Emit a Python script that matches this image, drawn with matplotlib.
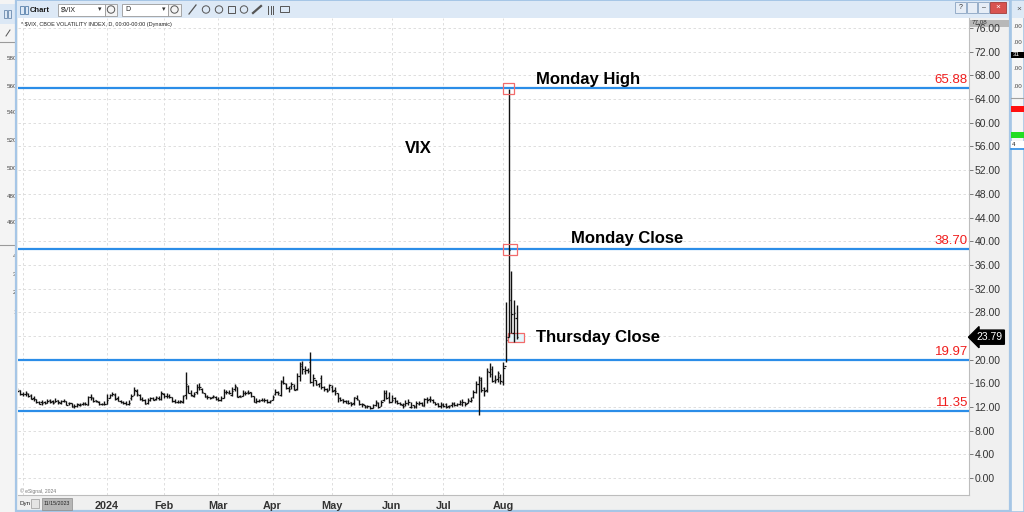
import matplotlib
matplotlib.use('Agg')
import numpy as np
import pandas as pd
import matplotlib.pyplot as plt
from matplotlib.patches import Rectangle, Circle
from matplotlib.transforms import blended_transform_factory

plt.rcParams['font.family'] = ['Liberation Sans', 'DejaVu Sans']

# daily bars, 13 Nov 2023 .. 8 Aug 2024 (US market holidays removed)
holidays = ['2023-11-23', '2023-12-25', '2024-01-01', '2024-01-15', '2024-02-19',
            '2024-03-29', '2024-05-27', '2024-06-19', '2024-07-04']
days = pd.bdate_range('2023-11-13', '2024-08-08')
days = days[~days.isin(pd.to_datetime(holidays))]

opens = [
    # Nov
    14.85, 14.90, 14.20, 14.25, 14.20, 14.05, 13.45, 13.30, 12.90, 12.80, 12.85, 12.70, 13.20,
    # Dec
    13.00, 12.90, 13.10, 12.75, 12.95, 13.00, 12.60, 12.65, 12.20, 12.20, 12.40, 12.50, 12.60,
    12.40, 13.60, 13.50, 13.10, 12.90, 12.50, 12.45,
    # Jan
    12.55, 13.55, 14.10, 14.00, 13.55, 13.05, 12.80, 12.60, 12.45, 13.45, 14.10, 14.70, 14.10,
    13.30, 13.20, 12.60, 13.10, 13.45, 13.30, 13.55, 13.30,
    # Feb
    14.20, 13.90, 13.90, 13.60, 13.05, 12.85, 12.85, 12.90, 13.95, 15.60, 14.40, 13.90, 14.50,
    15.30, 15.10, 14.30, 13.85, 13.70, 13.70, 13.60,
    # Mar
    13.40, 13.20, 13.55, 14.50, 14.35, 14.10, 14.95, 15.30, 13.80, 13.85, 14.30, 14.50, 14.50,
    13.80, 12.90, 13.05, 13.10, 13.10, 13.25, 12.85,
    # Apr
    13.20, 14.20, 14.60, 14.00, 16.20, 15.90, 15.20, 15.50, 15.60, 15.10, 17.20, 19.00, 18.00,
    18.30, 19.60, 16.20, 16.50, 15.80, 16.90, 15.30, 15.00, 14.80,
    # May
    15.40, 14.90, 14.40, 13.50, 13.30, 13.00, 13.00, 12.80, 12.60, 13.50, 13.15, 12.50, 12.40,
    12.10, 12.15, 11.90, 12.30, 12.70, 12.20, 13.15, 14.40, 13.60,
    # Jun
    12.90, 13.50, 13.00, 12.60, 12.40, 12.50, 12.70, 12.00, 12.30, 12.10, 12.50, 12.70, 12.20,
    13.40, 13.30, 13.20, 12.80, 12.60, 12.20,
    # Jul
    12.30, 12.50, 12.20, 12.30, 12.60, 12.40, 12.55, 12.45, 12.90, 12.70, 13.00, 13.60, 14.50,
    15.80, 16.90, 15.20, 14.90, 17.90, 17.50, 16.50, 16.80, 17.10,
    # Aug
    16.20, 19.00, 23.90, 30.00, 24.50, 27.00,
]

highs = [
    15.20, 14.90, 14.55, 14.76, 14.35, 14.15, 13.90, 13.40, 12.95, 13.10, 13.05, 13.35, 13.30,
    13.20, 13.45, 13.25, 13.15, 13.40, 13.05, 12.85, 12.70, 12.55, 12.70, 12.75, 12.90, 12.80,
    13.90, 14.20, 13.75, 13.25, 12.95, 12.75, 12.95,
    14.25, 14.25, 14.60, 14.40, 13.80, 13.15, 13.00, 12.95, 13.10, 14.20, 15.45, 14.95, 14.25,
    13.65, 13.40, 13.45, 13.75, 13.65, 13.90, 13.80, 14.65,
    14.40, 14.30, 14.25, 13.70, 13.30, 13.25, 13.20, 14.10, 17.94, 15.70, 14.80, 14.50, 15.90,
    16.10, 15.20, 14.35, 14.00, 13.70, 14.05, 13.90,
    13.70, 13.85, 14.95, 14.90, 14.80, 15.30, 15.95, 15.40, 14.00, 14.80, 14.70, 14.90, 14.60,
    13.90, 13.45, 13.30, 13.50, 13.45, 13.30, 13.20,
    14.00, 14.95, 14.75, 16.55, 17.15, 16.05, 15.50, 16.30, 15.95, 17.70, 19.60, 19.70, 18.90,
    18.60, 21.36, 17.50, 16.55, 16.10, 17.40, 15.50, 15.20, 15.80,
    15.70, 15.40, 14.40, 13.60, 13.35, 13.20, 13.10, 12.90, 13.65, 13.95, 13.20, 12.60, 12.40,
    12.40, 12.20, 12.50, 13.10, 12.80, 13.10, 14.80, 14.90, 14.60,
    14.10, 13.60, 13.20, 12.90, 12.75, 13.10, 13.30, 12.90, 12.35, 13.00, 13.00, 12.85, 13.50,
    13.70, 13.90, 13.35, 12.90, 12.75, 12.90,
    12.75, 12.60, 12.40, 12.80, 12.90, 12.75, 13.15, 13.30, 12.90, 13.45, 13.60, 14.80, 16.40,
    17.19, 17.10, 15.40, 18.50, 19.50, 19.00, 17.40, 18.10, 17.50,
    19.60, 29.66, 65.73, 34.90, 30.10, 29.30,
]

lows = [
    14.45, 14.05, 13.90, 13.85, 13.65, 13.35, 13.05, 12.65, 12.45, 12.40, 12.55, 12.60, 12.65,
    12.50, 12.85, 12.55, 12.55, 12.80, 12.30, 12.40, 12.05, 11.85, 12.00, 12.10, 12.35, 12.25,
    12.30, 13.25, 12.90, 12.80, 12.40, 12.30, 12.30,
    12.55, 13.45, 13.85, 13.15, 13.00, 12.60, 12.45, 12.35, 12.30, 13.25, 14.00, 13.90, 13.20,
    13.05, 12.45, 12.55, 13.00, 13.10, 13.10, 13.15, 13.10,
    13.45, 13.45, 13.50, 12.90, 12.65, 12.60, 12.65, 12.75, 13.40, 14.30, 13.90, 13.60, 14.20,
    14.90, 14.40, 13.65, 13.40, 13.30, 13.45, 13.20,
    13.00, 13.00, 13.45, 14.20, 14.15, 13.90, 14.70, 13.65, 13.60, 13.80, 14.05, 14.20, 13.70,
    12.80, 12.65, 12.80, 12.95, 12.90, 12.65, 12.75,
    13.20, 14.00, 14.00, 13.80, 15.80, 15.10, 14.50, 15.00, 14.85, 14.85, 16.40, 17.55, 17.60,
    17.70, 16.10, 15.55, 15.65, 15.30, 15.00, 14.70, 14.60, 14.80,
    14.50, 14.10, 12.90, 13.00, 12.60, 12.60, 12.45, 12.20, 12.40, 13.20, 12.35, 12.05, 11.80,
    11.90, 11.60, 11.80, 12.10, 11.90, 12.10, 13.05, 13.30, 12.70,
    12.90, 12.70, 12.45, 12.30, 11.90, 12.15, 12.40, 11.85, 11.80, 11.90, 12.30, 12.10, 12.10,
    12.75, 12.90, 12.60, 12.30, 12.00, 11.90,
    12.00, 11.90, 11.80, 12.05, 12.10, 12.10, 12.40, 12.10, 12.20, 12.60, 12.90, 13.50, 14.30,
    10.62, 14.60, 13.90, 14.60, 17.00, 16.20, 16.00, 16.20, 15.80,
    15.70, 19.60, 23.90, 24.50, 23.00, 23.40,
]

closes = [
    14.76, 14.16, 14.18, 14.32, 13.80, 13.41, 13.35, 12.85, 12.46, 12.69, 12.69, 12.98, 12.92,
    12.63, 13.08, 12.85, 12.97, 13.06, 12.35, 12.63, 12.07, 12.19, 12.48, 12.28, 12.56, 12.53,
    13.67, 13.65, 13.03, 12.99, 12.43, 12.47, 12.45,
    13.20, 14.04, 14.13, 13.35, 13.08, 12.76, 12.69, 12.44, 12.70, 13.84, 14.79, 14.13, 13.30,
    13.19, 12.55, 13.14, 13.45, 13.26, 13.60, 13.31, 14.35,
    13.88, 13.85, 13.67, 12.93, 12.83, 12.79, 12.93, 13.93, 15.85, 14.38, 14.01, 14.24, 15.42,
    15.34, 14.54, 13.75, 13.74, 13.43, 13.84, 13.40,
    13.11, 13.49, 14.46, 14.50, 14.44, 14.74, 15.47, 13.75, 13.75, 14.40, 14.41, 14.33, 13.82,
    12.92, 13.06, 13.06, 13.19, 13.24, 12.78, 13.01,
    13.65, 14.61, 14.33, 16.35, 16.03, 15.19, 14.98, 15.80, 14.91, 17.31, 19.23, 18.40, 18.21,
    18.00, 16.14, 16.94, 15.69, 15.97, 15.37, 15.03, 14.67, 15.65,
    14.68, 14.68, 13.49, 13.23, 13.00, 12.69, 12.69, 12.55, 13.60, 13.42, 12.45, 12.42, 11.99,
    12.15, 11.86, 12.29, 12.77, 11.93, 12.92, 14.28, 13.49, 12.92,
    13.11, 13.06, 12.63, 12.58, 12.22, 12.74, 12.85, 12.04, 11.94, 12.66, 12.75, 12.30, 13.28,
    13.20, 13.33, 12.84, 12.55, 12.24, 12.44,
    12.22, 12.03, 12.09, 12.48, 12.37, 12.51, 12.85, 12.91, 12.46, 13.12, 13.19, 14.48, 15.93,
    16.52, 14.91, 14.72, 18.04, 18.46, 16.39, 16.60, 17.69, 16.36,
    18.59, 23.39, 38.57, 27.71, 27.85, 23.79,
]

levels = [65.88, 38.70, 19.97, 11.35]
month_names = ['2024', 'Feb', 'Mar', 'Apr', 'May', 'Jun', 'Jul', 'Aug']
yticks = list(range(0, 77, 4))

W, H = 1024, 512


def fx(x):
    return x / W


def fy(y):
    return 1 - y / H


fig = plt.figure(figsize=(W / 100, H / 100), dpi=100, facecolor='#f0f0f0')

# ---- window chrome drawn in pixel coordinates ----
bg = fig.add_axes([0, 0, 1, 1])
bg.set_xlim(0, W)
bg.set_ylim(H, 0)
bg.axis('off')


def box(x0, y0, x1, y1, fc, ec='none', lw=0.7, z=1):
    bg.add_patch(Rectangle((x0, y0), x1 - x0, y1 - y0, fc=fc, ec=ec, lw=lw, zorder=z))


# window behind, on the left
box(0, 0, 16, 512, '#f4f4f4', z=1)
box(0, 4, 16, 24, '#dce8f5', z=1.1)
box(4, 10, 7, 18, 'none', ec='#7a97b8', z=1.2)
box(8, 10, 11, 18, 'none', ec='#7a97b8', z=1.2)
bg.plot([0, 16], [42, 42], color='#9a9a9a', lw=0.8, zorder=1.2)
bg.plot([6, 10], [36, 30], color='#555555', lw=0.7, zorder=1.2)
bg.plot([0, 16], [245, 245], color='#9a9a9a', lw=0.8, zorder=1.2)
for v, y in zip(['580', '560', '540', '520', '500', '480', '460'],
                [58, 86, 113, 141, 168, 196, 223]):
    bg.text(7, y, v, fontsize=4.5, color='#444444', va='center', zorder=1.3)
for v, y in zip(['4', '3', '2', '1'], [256, 274, 293, 312]):
    bg.text(13, y, v, fontsize=4.5, color='#444444', va='center', zorder=1.3)

# window on the right
box(1011, 0, 1024, 512, '#f6f6f6', ec='#a6c6e6', lw=1.2, z=2)
box(1012, 1, 1024, 18, '#dde9f6', z=2.1)
bg.text(1016, 9, '×', fontsize=6, color='#555555', va='center', zorder=2.2)
for y in [27, 43, 68, 87]:
    bg.text(1013, y, '.00', fontsize=4.5, color='#444444', va='center', zorder=2.2)
bg.plot([1011, 1024], [98, 98], color='#a0a0a0', lw=0.8, zorder=2.2)
box(1011, 52, 1024, 58, '#000000', z=2.2)
bg.text(1013, 55, '31', fontsize=4.5, color='white', va='center', zorder=2.3)
box(1011, 106, 1024, 112, '#ff1010', z=2.2)
box(1011, 132, 1024, 138, '#22dd22', z=2.2)
box(1011, 141, 1024, 148, 'white', z=2.2)
bg.text(1012, 144.5, '4', fontsize=4.5, color='#222222', va='center', zorder=2.3)
bg.plot([1011, 1024], [148.5, 148.5], color='#2b8de8', lw=1.2, zorder=2.3)

# chart window
box(16, 0, 1010, 511, '#f0f0f0', ec='#a6c6e6', lw=1.6, z=2)
box(17, 1, 1009, 18, '#dde9f6', z=2.1)
box(20, 6, 23.5, 14, 'none', ec='#6a8fb5', z=2.2)
box(24.5, 6, 28, 14, 'none', ec='#6a8fb5', z=2.2)
bg.text(29.5, 10, 'Chart', fontsize=5.5, fontweight='bold', color='#1a1a1a',
        va='center', zorder=2.2)
box(58, 3.5, 105, 15.5, 'white', ec='#9a9a9a', lw=0.6, z=2.2)
bg.text(61, 9.5, '$VIX', fontsize=5, color='#222222', va='center', zorder=2.3)
bg.text(98, 9.5, '▾', fontsize=5, color='#333333', va='center', zorder=2.3)
box(105, 3.5, 117, 15.5, '#f4f4f4', ec='#9a9a9a', lw=0.6, z=2.2)
box(122, 3.5, 168, 15.5, 'white', ec='#9a9a9a', lw=0.6, z=2.2)
bg.text(125, 9.5, 'D', fontsize=5, color='#222222', va='center', zorder=2.3)
bg.text(162, 9.5, '▾', fontsize=5, color='#333333', va='center', zorder=2.3)
box(168, 3.5, 181, 15.5, '#f4f4f4', ec='#9a9a9a', lw=0.6, z=2.2)
for cx in [111, 174.5, 206, 219, 244]:
    bg.add_patch(Circle((cx, 9.5), 3.7, fc='none', ec='#555555', lw=0.7, zorder=2.3))
bg.plot([189, 196], [14, 5], color='#555555', lw=0.9, zorder=2.3)
box(228, 6, 235, 13, 'none', ec='#555555', z=2.3)
bg.plot([253, 261], [13, 6], color='#555555', lw=1.6, zorder=2.3)
for xx in [268, 270.5, 273]:
    bg.plot([xx, xx], [5.5, 13.5], color='#555555', lw=0.7, zorder=2.3)
box(280, 5.5, 289, 12, 'none', ec='#555555', z=2.3)

# title-bar buttons on the right
for x0, x1 in [(955, 966), (967, 977), (978, 989)]:
    box(x0, 2, x1, 13, '#e6edf6', ec='#8aa4c2', lw=0.6, z=2.2)
bg.text(960.5, 7.5, '?', fontsize=5, color='#333333', ha='center', va='center', zorder=2.3)
bg.text(983.5, 7.5, '–', fontsize=5, color='#333333', ha='center', va='center', zorder=2.3)
box(990, 2, 1006, 13, '#d9534f', ec='#a33b38', lw=0.6, z=2.2)
bg.text(998, 7.5, '×', fontsize=6, color='white', ha='center', va='center', zorder=2.3)

# max-value marker at top of the price scale
box(970, 19.5, 1009, 26.5, '#b8b8b8', z=2.2)
bg.text(972, 23, '77.08', fontsize=4.5, color='#333333', va='center', zorder=2.3)

# bottom-left controls
bg.text(19, 503.5, 'Dyn', fontsize=4.5, color='#222222', va='center', zorder=2.3)
box(31, 499, 39, 508, '#e4e4e4', ec='#999999', lw=0.5, z=2.2)
box(42, 498, 72, 509.5, '#b6b6b6', ec='#8c8c8c', lw=0.5, z=2.2)
bg.text(57, 503.5, '11/15/2023', fontsize=3.8, color='#222222', ha='center',
        va='center', zorder=2.3)

# ---- price chart ----
ax = fig.add_axes([fx(18), fy(495), fx(969) - fx(18), fy(18) - fy(495)])
ax.set_facecolor('white')

idx = np.arange(len(closes))
ax.vlines(idx, lows, highs, color='#111111', lw=1.0, zorder=4)
ax.hlines(opens, idx - 0.55, idx, color='#111111', lw=0.9, zorder=4)
ax.hlines(closes, idx, idx + 0.55, color='#111111', lw=0.9, zorder=4)

ax.set_xlim(0.2, 350.7)
ax.set_ylim(-2.87, 77.7)

# month gridlines / labels
pos = pd.Series(np.arange(len(days)), index=days)
firsts = pos.groupby([days.year, days.month]).min()
month_pos = list(firsts.loc[2024].values)
start_pos = days.get_loc(pd.Timestamp('2023-11-15'))
ax.set_xticks([start_pos] + month_pos)
ax.set_xticklabels([''] + month_names)
ax.tick_params(axis='x', length=0, pad=4, labelsize=7.8, labelcolor='#333333')
for lbl in ax.get_xticklabels():
    lbl.set_fontweight('bold')

ax.yaxis.tick_right()
ax.set_yticks(yticks)
ax.set_yticklabels([f'{v:.2f}' for v in yticks])
ax.tick_params(axis='y', length=3, width=0.6, color='#666666', pad=1,
               labelsize=7.5, labelcolor='#333333')

ax.grid(True, color='#d9d9d9', lw=0.6, ls=(0, (3, 3)))
ax.set_axisbelow(True)
for side in ['left', 'top']:
    ax.spines[side].set_visible(False)
for side in ['right', 'bottom']:
    ax.spines[side].set_color('#bdbdbd')
    ax.spines[side].set_linewidth(0.8)

# horizontal levels with red values
for lv in levels:
    ax.axhline(lv, color='#2b8de8', lw=1.6, zorder=3)
    ax.text(350.3, lv + 0.3, f'{lv:.2f}', color='#f01c1c', fontsize=9.5,
            ha='right', va='bottom', zorder=6)

# callouts
mon = days.get_loc(pd.Timestamp('2024-08-05'))
thu = days.get_loc(pd.Timestamp('2024-08-08'))
ax.add_patch(Rectangle((mon - 2.0, highs[mon] - 0.95), 4.0, 1.9, fill=False,
                       ec='#f26b6b', lw=0.9, zorder=5))
ax.add_patch(Rectangle((mon - 2.0, closes[mon] - 0.95), 5.1, 1.9, fill=False,
                       ec='#f26b6b', lw=0.9, zorder=5))
ax.add_patch(Rectangle((thu - 3.2, closes[thu] - 0.8), 5.9, 1.55, fc='#e4f7fd',
                       ec='#f26b6b', lw=0.9, zorder=3.5))

bold = dict(fontsize=12, fontweight='bold', color='black', va='baseline', zorder=6)
ax.text(142.9, 54.9, 'VIX', **bold)
ax.text(191.2, 66.55, 'Monday High', **bold)
ax.text(204.1, 39.7, 'Monday Close', **bold)
ax.text(191.2, 22.97, 'Thursday Close', **bold)

# last-price flag on the price scale
trans = blended_transform_factory(ax.transAxes, ax.transData)
ax.text(1.0075, closes[-1], f'{closes[-1]:.2f}', transform=trans, ha='left', va='center',
        fontsize=7.5, color='white', clip_on=False, zorder=7,
        bbox=dict(boxstyle='larrow,pad=0.2', fc='black', ec='black'))

fig.text(fx(21), fy(24.5), '* $VIX, CBOE VOLATILITY INDEX, D, 00:00-00:00 (Dynamic)',
         fontsize=4, color='#222222', va='center', zorder=10)
fig.text(fx(20), fy(491), '© eSignal, 2024', fontsize=3.6, color='#777777',
         va='center', zorder=10)

fig.savefig('out.png', dpi=100, facecolor=fig.get_facecolor())
